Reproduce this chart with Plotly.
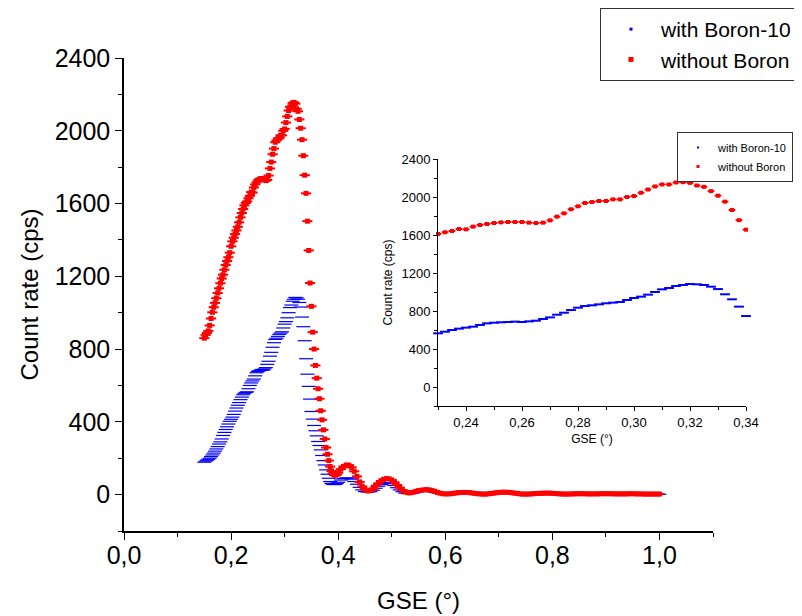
import plotly.graph_objects as go

# ---------------- data ----------------
# GSE angle (deg): fine sampling 0.15-0.40 (step 0.0025), coarse 0.405-1.0 (step 0.005)
GSE_FINE = [
    0.1500, 0.1525, 0.1550, 0.1575, 0.1600, 0.1625, 0.1650, 0.1675, 0.1700, 0.1725,
    0.1750, 0.1775, 0.1800, 0.1825, 0.1850, 0.1875, 0.1900, 0.1925, 0.1950, 0.1975,
    0.2000, 0.2025, 0.2050, 0.2075, 0.2100, 0.2125, 0.2150, 0.2175, 0.2200, 0.2225,
    0.2250, 0.2275, 0.2300, 0.2325, 0.2350, 0.2375, 0.2400, 0.2425, 0.2450, 0.2475,
    0.2500, 0.2525, 0.2550, 0.2575, 0.2600, 0.2625, 0.2650, 0.2675, 0.2700, 0.2725,
    0.2750, 0.2775, 0.2800, 0.2825, 0.2850, 0.2875, 0.2900, 0.2925, 0.2950, 0.2975,
    0.3000, 0.3025, 0.3050, 0.3075, 0.3100, 0.3125, 0.3150, 0.3175, 0.3200, 0.3225,
    0.3250, 0.3275, 0.3300, 0.3325, 0.3350, 0.3375, 0.3400, 0.3425, 0.3450, 0.3475,
    0.3500, 0.3525, 0.3550, 0.3575, 0.3600, 0.3625, 0.3650, 0.3675, 0.3700, 0.3725,
    0.3750, 0.3775, 0.3800, 0.3825, 0.3850, 0.3875, 0.3900, 0.3925, 0.3950, 0.3975,
    0.4000,
]
GSE_COARSE = [
    0.405, 0.410, 0.415, 0.420, 0.425, 0.430, 0.435, 0.440, 0.445, 0.450,
    0.455, 0.460, 0.465, 0.470, 0.475, 0.480, 0.485, 0.490, 0.495, 0.500,
    0.505, 0.510, 0.515, 0.520, 0.525, 0.530, 0.535, 0.540, 0.545, 0.550,
    0.555, 0.560, 0.565, 0.570, 0.575, 0.580, 0.585, 0.590, 0.595, 0.600,
    0.605, 0.610, 0.615, 0.620, 0.625, 0.630, 0.635, 0.640, 0.645, 0.650,
    0.655, 0.660, 0.665, 0.670, 0.675, 0.680, 0.685, 0.690, 0.695, 0.700,
    0.705, 0.710, 0.715, 0.720, 0.725, 0.730, 0.735, 0.740, 0.745, 0.750,
    0.755, 0.760, 0.765, 0.770, 0.775, 0.780, 0.785, 0.790, 0.795, 0.800,
    0.805, 0.810, 0.815, 0.820, 0.825, 0.830, 0.835, 0.840, 0.845, 0.850,
    0.855, 0.860, 0.865, 0.870, 0.875, 0.880, 0.885, 0.890, 0.895, 0.900,
    0.905, 0.910, 0.915, 0.920, 0.925, 0.930, 0.935, 0.940, 0.945, 0.950,
    0.955, 0.960, 0.965, 0.970, 0.975, 0.980, 0.985, 0.990, 0.995, 1.000,
]

# Count rate (cps) with Boron-10
WITH_B10_FINE = [
    178, 184, 189, 194, 200, 209, 218, 228, 239, 251,
    264, 278, 290, 306, 325, 342, 358, 373, 388, 403,
    414, 426, 441, 459, 476, 491, 506, 522, 536, 549,
    557, 562, 565, 582, 600, 614, 625, 635, 653, 670,
    677, 681, 684, 688, 684, 691, 698, 716, 733, 761,
    782, 810, 835, 853, 860, 870, 881, 888, 895, 916,
    937, 951, 972, 1000, 1028, 1042, 1063, 1074, 1084, 1081,
    1074, 1056, 1031, 976, 923, 846, 747, 662, 595, 525,
    457, 415, 380, 351, 323, 292, 270, 246, 215, 187,
    163, 136, 112, 90, 72, 62, 56, 55, 57, 62,
    68,
]
WITH_B10_COARSE = [
    80, 88, 92, 91, 85, 72, 57, 40, 26, 17,
    14, 16, 24, 35, 46, 55, 62, 65, 65, 60,
    50, 38, 26, 16, 9, 6, 6, 9, 13, 17,
    20, 22, 22, 21, 18, 14, 10, 6, 4, 3,
    3, 4, 6, 8, 9, 10, 10, 10, 9, 8,
    6, 4, 3, 2, 2, 3, 5, 7, 8, 10,
    11, 11, 11, 10, 8, 6, 4, 3, 2, 2,
    2, 3, 4, 5, 6, 6, 7, 7, 6, 6,
    5, 4, 3, 2, 2, 2, 3, 3, 4, 4,
    4, 4, 3, 3, 3, 3, 3, 4, 4, 4,
    4, 4, 3, 3, 3, 3, 3, 3, 4, 4,
    3, 3, 3, 2, 2, 2, 2, 2, 2, 2,
]

# Count rate (cps) without Boron
WITHOUT_B_FINE = [
    860, 878, 889, 900, 930, 968, 1002, 1030, 1054, 1080,
    1108, 1134, 1162, 1188, 1209, 1236, 1262, 1284, 1305, 1330,
    1365, 1392, 1412, 1432, 1452, 1472, 1497, 1524, 1548, 1570,
    1590, 1604, 1611, 1629, 1642, 1663, 1660, 1688, 1705, 1716,
    1726, 1733, 1737, 1737, 1737, 1730, 1726, 1730, 1754, 1793,
    1828, 1871, 1902, 1937, 1947, 1958, 1958, 1975, 1975, 2000,
    2010, 2045, 2079, 2111, 2132, 2132, 2153, 2156, 2149, 2121,
    2107, 2062, 2014, 1951, 1863, 1756, 1656, 1503, 1342, 1163,
    1035, 893, 800, 710, 640, 582, 527, 461, 411, 356,
    306, 259, 222, 187, 154, 130, 117, 108, 106, 110,
    120,
]
WITHOUT_B_COARSE = [
    140, 155, 163, 162, 150, 128, 100, 70, 45, 28,
    20, 22, 32, 48, 62, 75, 84, 88, 87, 80,
    68, 53, 38, 25, 15, 10, 10, 13, 18, 22,
    24, 26, 27, 26, 23, 18, 13, 8, 5, 4,
    4, 5, 7, 9, 11, 12, 12, 12, 11, 9,
    7, 5, 4, 3, 3, 4, 6, 8, 10, 12,
    13, 13, 13, 12, 10, 8, 6, 4, 3, 3,
    3, 4, 5, 6, 7, 7, 8, 8, 8, 7,
    6, 5, 4, 3, 3, 3, 4, 4, 5, 5,
    5, 5, 4, 4, 4, 4, 4, 5, 5, 5,
    5, 5, 4, 4, 4, 4, 4, 4, 5, 5,
    4, 4, 4, 3, 3, 3, 3, 3, 3, 3,
]

SERIES_NAMES = ["with Boron-10", "without Boron"]
MAIN_X_TICKS = [0.0, 0.2, 0.4, 0.6, 0.8, 1.0]
Y_TICKS = [0, 400, 800, 1200, 1600, 2000, 2400]
INSET_X_TICKS = [0.24, 0.26, 0.28, 0.30, 0.32, 0.34]
INSET_RANGE = [0.23, 0.34]

# ---------------- figure ----------------
GSE = GSE_FINE + GSE_COARSE
WITH_B10 = WITH_B10_FINE + WITH_B10_COARSE
WITHOUT_B = WITHOUT_B_FINE + WITHOUT_B_COARSE

sel = [i for i, v in enumerate(GSE) if INSET_RANGE[0] - 1e-9 <= v <= INSET_RANGE[1] + 1e-9]
GSE_IN = [GSE[i] for i in sel]
WITH_B10_IN = [WITH_B10[i] for i in sel]
WITHOUT_B_IN = [WITHOUT_B[i] for i in sel]

FONT = "Liberation Sans, Arial, Helvetica, sans-serif"
BLUE = "#0000FF"
RED = "#FF0000"

# the page body has an 8px margin: figure is 794x608, placed at (8, 8)
W, H = 794, 608
def px(xp):  # page x -> paper fraction
    return (xp - 8) / W
def py(yp):  # page y -> paper fraction (from bottom)
    return (H - (yp - 8)) / H

fig = go.Figure()

# main plot
fig.add_trace(go.Scatter(
    x=GSE, y=WITH_B10, mode="markers", showlegend=False, xaxis="x", yaxis="y",
    marker=dict(symbol="line-ew", size=10, color=BLUE, line=dict(color=BLUE, width=1.2)),
))
fig.add_trace(go.Scatter(
    x=GSE, y=WITHOUT_B, mode="markers", showlegend=False, xaxis="x", yaxis="y",
    marker=dict(symbol="square", size=5, color=RED, line=dict(width=0)),
    error_x=dict(type="constant", value=0.0095, thickness=2, width=0, color=RED),
))

# inset
fig.add_trace(go.Scatter(
    x=GSE_IN, y=WITH_B10_IN, mode="markers", showlegend=False, xaxis="x2", yaxis="y2",
    cliponaxis=False,
    marker=dict(symbol="line-ew", size=7, color=BLUE, line=dict(color=BLUE, width=2)),
))
fig.add_trace(go.Scatter(
    x=GSE_IN, y=WITHOUT_B_IN, mode="markers", showlegend=False, xaxis="x2", yaxis="y2",
    cliponaxis=False,
    marker=dict(symbol="square", size=4, color=RED, line=dict(width=0)),
    error_x=dict(type="constant", value=0.0012, thickness=2, width=0, color=RED),
))

# legend entries
fig.add_trace(go.Scatter(x=[None], y=[None], mode="markers", name=SERIES_NAMES[0],
                         xaxis="x", yaxis="y", legend="legend",
                         marker=dict(symbol="square", size=3, color=BLUE)))
fig.add_trace(go.Scatter(x=[None], y=[None], mode="markers", name=SERIES_NAMES[1],
                         xaxis="x", yaxis="y", legend="legend",
                         marker=dict(symbol="square", size=5, color=RED)))
fig.add_trace(go.Scatter(x=[None], y=[None], mode="markers", name=SERIES_NAMES[0],
                         xaxis="x2", yaxis="y2", legend="legend2",
                         marker=dict(symbol="square", size=2, color=BLUE)))
fig.add_trace(go.Scatter(x=[None], y=[None], mode="markers", name=SERIES_NAMES[1],
                         xaxis="x2", yaxis="y2", legend="legend2",
                         marker=dict(symbol="square", size=3, color=RED)))

axis_common = dict(showgrid=False, zeroline=False, showline=True, linecolor="black",
                   ticks="outside", tickcolor="black", tickwidth=1, mirror=False,
                   automargin=False)

fig.update_layout(
    width=W, height=H,
    margin=dict(l=0, r=0, t=0, b=0, autoexpand=False),
    paper_bgcolor="white", plot_bgcolor="white",
    separators=",.",
    font=dict(family=FONT, color="black"),
    xaxis=dict(
        **axis_common, domain=[px(124), px(713)], anchor="y", range=[0, 1.1],
        tickvals=MAIN_X_TICKS, tickformat=".1f", ticklen=7, linewidth=1.5,
        tickfont=dict(size=25), ticklabelstandoff=-6,
        minor=dict(ticks="outside", ticklen=4, dtick=0.1, tick0=0, tickcolor="black", showgrid=False),
        title=dict(text="GSE (°)", font=dict(size=24), standoff=24),
    ),
    yaxis=dict(
        **axis_common, domain=[py(531), py(58)], anchor="x", range=[-200, 2400],
        tickvals=Y_TICKS, tickformat="d", ticklen=7, linewidth=1.5,
        tickfont=dict(size=25),
        minor=dict(ticks="outside", ticklen=4, dtick=200, tick0=0, tickcolor="black", showgrid=False),
        title=dict(text="Count rate (cps)", font=dict(size=24), standoff=9),
    ),
    xaxis2=dict(
        **axis_common, domain=[px(438), px(746)], anchor="y2", range=INSET_RANGE,
        tickvals=INSET_X_TICKS, tickformat=".2f", ticklen=4, linewidth=1,
        tickfont=dict(size=13),
        minor=dict(ticks="outside", ticklen=3, dtick=0.01, tick0=0, tickcolor="black", showgrid=False),
        title=dict(text="GSE (°)", font=dict(size=12), standoff=6),
    ),
    yaxis2=dict(
        **axis_common, domain=[py(406), py(159)], anchor="x2", range=[-200, 2400],
        tickvals=Y_TICKS, tickformat="d", ticklen=4, linewidth=1,
        tickfont=dict(size=13),
        minor=dict(ticks="outside", ticklen=3, dtick=200, tick0=0, tickcolor="black", showgrid=False),
        title=dict(text="Count rate (cps)", font=dict(size=12), standoff=6),
    ),
    legend=dict(
        x=px(600), y=1.0, xanchor="left", yanchor="top",
        bgcolor="white", bordercolor="#333333", borderwidth=1,
        font=dict(size=21, family=FONT), itemwidth=50, tracegroupgap=0,
    ),
    legend2=dict(
        x=px(677), y=py(132), xanchor="left", yanchor="top",
        bgcolor="white", bordercolor="#333333", borderwidth=1,
        font=dict(size=11, family=FONT), itemwidth=30, tracegroupgap=0,
    ),
)

fig.write_html("out.html")
